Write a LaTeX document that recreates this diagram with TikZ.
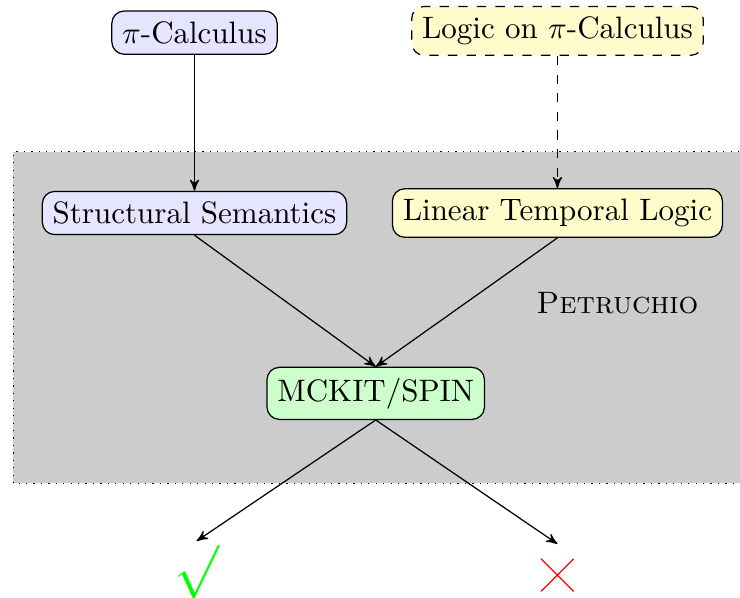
\documentclass[tikz,border=0pt]{standalone}
\usepackage{amssymb,amsmath}
\usepackage{tikz}
\usepackage{xcolor}
\usetikzlibrary{shapes}
\usetikzlibrary{shapes.misc}
\usetikzlibrary{arrows}
\usetikzlibrary{positioning}

\tikzset{
  tool/.style={draw, rectangle, rounded corners},
  failmark/.style={cross out, draw=red, minimum size=10.5pt, inner sep=0pt, outer sep=0pt}
}

\begin{document}
\begin{tikzpicture}[>=stealth']
\useasboundingbox (0,0) rectangle (8.39,6.78);

% Petruchio area (background)
\draw[dotted, fill=black!20] (0.15,1.30) rectangle (8.7,5.06);
\node (petruchio) at (7.00,3.345) {\textsc{Petruchio}};

% Inputs (nodes)
\node[tool, fill=blue!10] (pical) at (2.205,6.41) {$\pi$-Calculus};
\node[tool, dashed, fill=yellow!20] (logic) at (6.32,6.43) {Logic on $\pi$-Calculus};

% Inside Petruchio (nodes)
\node[tool, fill=blue!10] (sem) at (2.205,4.365) {Structural Semantics};
\node[tool, fill=yellow!20] (ltl) at (6.32,4.365) {Linear Temporal Logic};
\node[tool, fill=green!20, minimum height=0.59cm] (mck) at (4.26,2.32) {MCKIT/SPIN};

% Results (nodes)
\node[text=green, inner sep=0pt, outer sep=1.5pt] (yes) at (2.23,0.29) {\LARGE $\surd$};
\node[failmark] (no) at (6.32,0.26) {};
\coordinate[above=4.8pt of no.north] (noin);

% Arrows
\draw[->] (pical) -- (sem);
\draw[->, dashed] (logic) -- (ltl);
\draw[->] (sem.south) -- (mck.north);
\draw[->] (ltl.south) -- (mck.north);
\draw[->] (mck.south) -- (yes.north);
\draw[->] (mck.south) -- (noin);
\end{tikzpicture}
\end{document}
